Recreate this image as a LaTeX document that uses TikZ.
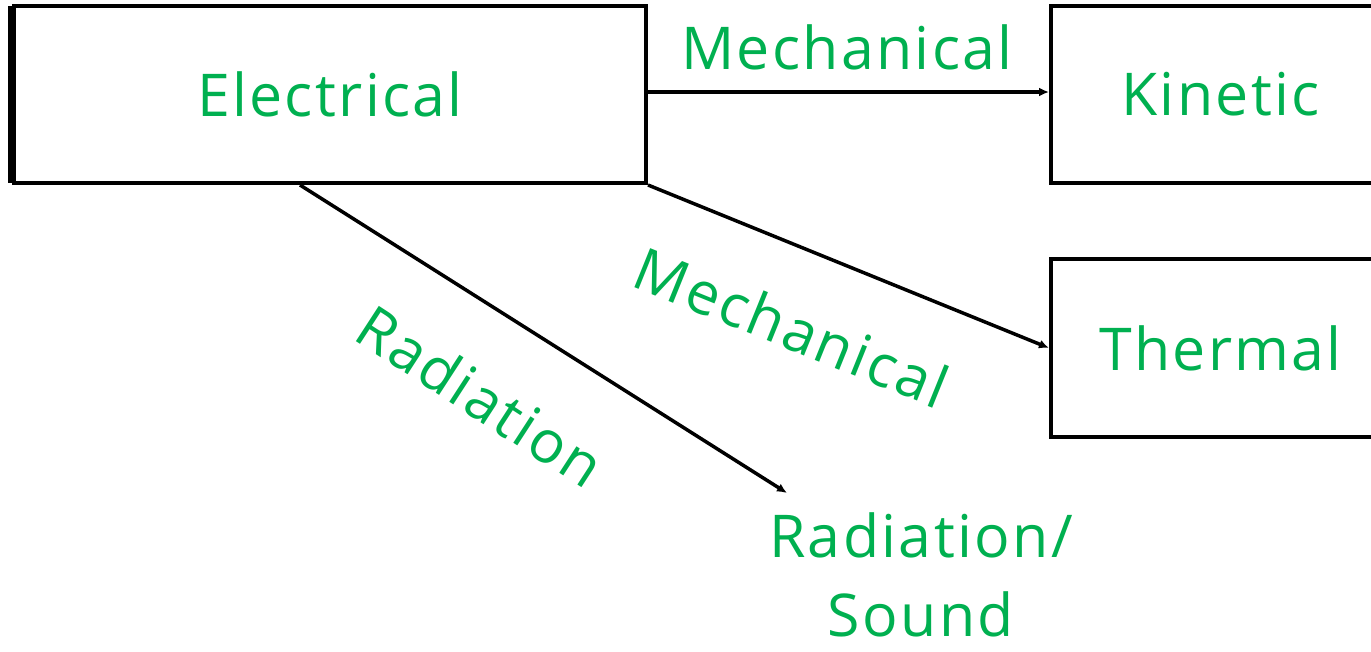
\documentclass[tikz,border=0pt]{standalone}
\usepackage{fontspec}
\setmainfont[LetterSpace=4]{Open Sans}
\usetikzlibrary{arrows.meta}
\definecolor{lblgreen}{RGB}{0,176,80}
\tikzset{
  box/.style={draw=black, line width=4pt, inner sep=0pt, fill=none},
  lbl/.style={text=lblgreen, inner sep=0pt, font=\fontsize{59}{79}\selectfont},
  conn/.style={draw=black, line width=3.5pt, -{Latex[length=10pt,width=9pt]}}
}
\begin{document}
\begin{tikzpicture}[x=1pt,y=-1pt]
\useasboundingbox (0,0) rectangle (1371,651);
\fill[white] (0,0) rectangle (1371,651);
% boxes
\node[box, minimum width=632pt, minimum height=177pt, text=lblgreen, font=\fontsize{59}{79}\selectfont] (elec) at (330,94.5) {Electrical};
\node[box, minimum width=339pt, minimum height=177pt, text=lblgreen, font=\fontsize{59}{79}\selectfont] (kin) at (1220.5,94.5) {Kinetic};
\node[box, minimum width=339pt, minimum height=178pt, text=lblgreen, font=\fontsize{59}{79}\selectfont] (therm) at (1220.5,348) {Thermal};
\draw[line width=8pt] ([xshift=0pt,yshift=-2pt]elec.north west) -- ([yshift=2pt]elec.south west);
% end text
\node[lbl, align=center, anchor=north] (rad) at (921,512) {Radiation/\\Sound};
\coordinate (radend) at (787,493);
\coordinate (radstart) at (300,185);
% connectors
\draw[conn] ([yshift=2.5pt]elec.east) -- ([yshift=2.5pt]kin.west);
\draw[conn] (elec.south east) -- (therm.west);
\draw[conn] (radstart) -- (radend);
% labels
\node[lbl] (lmech1) at (847,47) {Mechanical};
\node[lbl, rotate=-22] (lmech2) at (792,327) {Mechanical};
\node[lbl, rotate=-33] (lrad) at (481,396) {Radiation};
\end{tikzpicture}
\end{document}
